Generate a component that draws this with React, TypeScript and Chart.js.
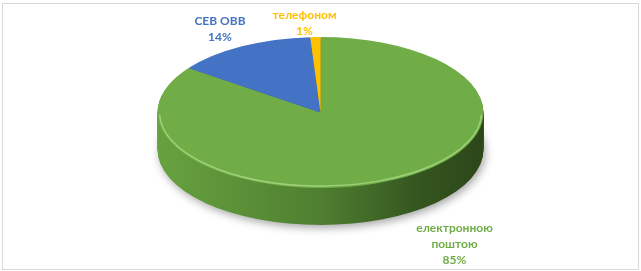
import React, { useEffect, useRef } from "react";
import { Chart, registerables } from "chart.js";

Chart.register(...registerables);

const categories = ["електронною поштою", "СЕВ ОВВ", "телефоном"];
const values = [85, 14, 1];
const labelLines = [["електронною", "поштою"], ["СЕВ ОВВ"], ["телефоном"]];

const topColors = ["#70AD47", "#4472C4", "#FFC000"];
const labelColors = ["#70AD47", "#4472C4", "#FFC000"];
const sideStops = [
  ["#67a23f", "#4f7f30", "#34551f", "#2c471a"],
  ["#3b64ad", "#2f5190", "#223c6c", "#1c3259"],
  ["#e0a800", "#c08f00", "#8f6a00", "#7a5a00"],
];

// layout constants (screen pixels)
const RX = 163;
const RY = 75.5;
const DEPTH = 37;
const labelAnchors = [
  [454.5, 228.5],
  [220, 21],
  [304.5, 15.5],
];
const LINE_H = 16;

const pie3d = {
  id: "pie3d",
  beforeDraw(chart: any) {
    const ctx = chart.ctx;
    ctx.save();
    ctx.strokeStyle = "#d9d9d9";
    ctx.lineWidth = 1;
    ctx.strokeRect(2.5, 3.5, 636, 266);
    ctx.restore();
  },
  beforeDatasetsDraw(chart: any) {
    const meta = chart.getDatasetMeta(0);
    const a0 = meta.data[0];
    const { x: cx, y: cy, outerRadius: R } = a0.getProps(["x", "y", "outerRadius"], true);
    const sx = RX / R;
    const sy = RY / R;
    const ctx = chart.ctx;
    ctx.save();
    const grads = sideStops.map((st) => {
      const g = ctx.createLinearGradient(cx - R, 0, cx + R, 0);
      g.addColorStop(0, st[0]);
      g.addColorStop(0.5, st[1]);
      g.addColorStop(0.8, st[2]);
      g.addColorStop(1, st[3]);
      return g;
    });
    for (let d = DEPTH; d >= 1; d--) {
      ctx.save();
      if (d === DEPTH) {
        ctx.shadowColor = "rgba(0,0,0,0.35)";
        ctx.shadowBlur = 8;
        ctx.shadowOffsetY = 3;
        ctx.shadowOffsetX = 2;
      }
      ctx.translate(cx, cy + d);
      ctx.scale(sx, sy);
      ctx.translate(-cx, -cy);
      meta.data.forEach((arc: any, i: number) => {
        const p = arc.getProps(["startAngle", "endAngle"], true);
        ctx.beginPath();
        ctx.moveTo(cx, cy);
        ctx.arc(cx, cy, R, p.startAngle, p.endAngle);
        ctx.closePath();
        ctx.fillStyle = grads[i];
        ctx.fill();
      });
      ctx.restore();
    }
    ctx.translate(cx, cy);
    ctx.scale(sx, sy);
    ctx.translate(-cx, -cy);
  },
  afterDatasetsDraw(chart: any) {
    const ctx = chart.ctx;
    ctx.restore();
    const meta = chart.getDatasetMeta(0);
    const { x: cx, y: cy } = meta.data[0].getProps(["x", "y"], true);
    ctx.save();
    ctx.strokeStyle = "rgba(175,220,140,0.75)";
    ctx.lineWidth = 1.5;
    ctx.beginPath();
    ctx.ellipse(cx, cy, RX - 2, RY - 2, 0, 0.03, Math.PI - 0.03);
    ctx.stroke();
    ctx.restore();
  },
  afterDraw(chart: any) {
    const ctx = chart.ctx;
    const total = values.reduce((a, b) => a + b, 0);
    ctx.save();
    ctx.font = "bold 12px Lato, 'Open Sans', sans-serif";
    ctx.textAlign = "center";
    ctx.textBaseline = "middle";
    values.forEach((v, i) => {
      const lines = [...labelLines[i], Math.round((v / total) * 100) + "%"];
      const [x, y] = labelAnchors[i];
      ctx.fillStyle = labelColors[i];
      lines.forEach((t, k) => ctx.fillText(t, x, y + k * LINE_H));
    });
    ctx.restore();
  },
};

export default function App() {
  const ref = useRef<HTMLCanvasElement | null>(null);
  useEffect(() => {
    if (!ref.current) return;
    const chart = new Chart(ref.current, {
      type: "pie",
      data: {
        labels: categories,
        datasets: [
          {
            data: values,
            backgroundColor: topColors,
            borderWidth: 0,
          },
        ],
      },
      options: {
        responsive: false,
        animation: false,
        devicePixelRatio: 1,
        layout: { padding: { top: 0, bottom: 46, left: 0, right: 0 } },
        plugins: { legend: { display: false }, tooltip: { enabled: false } },
      },
      plugins: [pie3d],
    });
    return () => chart.destroy();
  }, []);
  return (
    <div style={{ position: "absolute", left: 0, top: 0, width: 641, height: 271, background: "#fff" }}>
      <canvas ref={ref} width={641} height={271} />
    </div>
  );
}
